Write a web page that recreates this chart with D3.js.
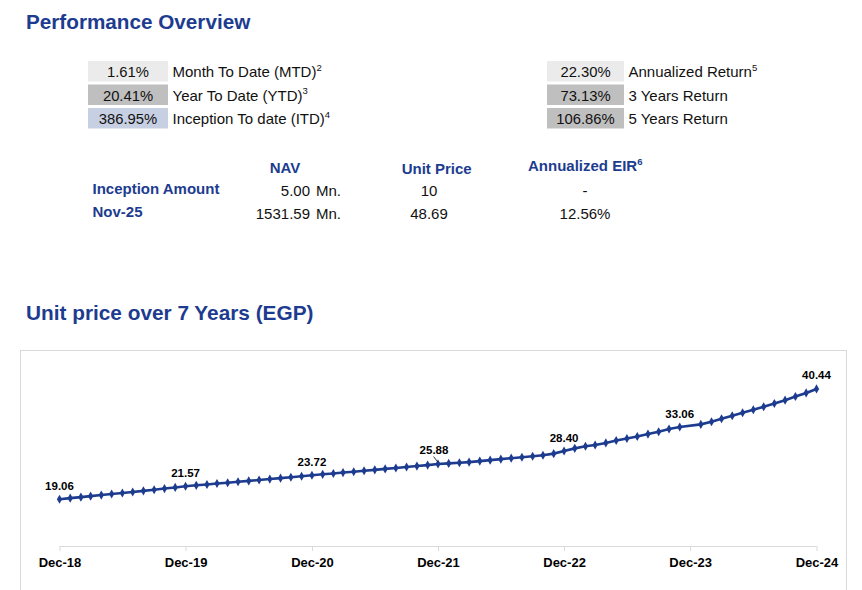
<!DOCTYPE html>
<html>
<head>
<meta charset="utf-8">
<script src="https://cdn.jsdelivr.net/npm/d3@7"></script>
<style>
  body { margin: 0; background: #ffffff; }
  svg { display: block; font-family: "Liberation Sans", Arial, sans-serif; }
</style>
</head>
<body>
<script>
// performance boxes
var leftStats = ["1.61%", "20.41%", "386.95%"];
var leftLabels = ["Month To Date (MTD)", "Year To Date (YTD)", "Inception To date (ITD)"];
var leftNotes = ["2", "3", "4"];
var rightStats = ["22.30%", "73.13%", "106.86%"];
var rightLabels = ["Annualized Return", "3 Years Return", "5 Years Return"];
var rightNotes = ["5", "", ""];

// NAV table
var tableRows = ["Inception Amount", "Nov-25"];
var navValues = ["5.00", "1531.59"];
var unitPrices = ["10", "48.69"];
var eirValues = ["-", "12.56%"];

// unit price, month end (Dec-23 not published)
var months = ["2018-12",
  "2019-01","2019-02","2019-03","2019-04","2019-05","2019-06","2019-07","2019-08","2019-09","2019-10","2019-11","2019-12",
  "2020-01","2020-02","2020-03","2020-04","2020-05","2020-06","2020-07","2020-08","2020-09","2020-10","2020-11","2020-12",
  "2021-01","2021-02","2021-03","2021-04","2021-05","2021-06","2021-07","2021-08","2021-09","2021-10","2021-11","2021-12",
  "2022-01","2022-02","2022-03","2022-04","2022-05","2022-06","2022-07","2022-08","2022-09","2022-10","2022-11","2022-12",
  "2023-01","2023-02","2023-03","2023-04","2023-05","2023-06","2023-07","2023-08","2023-09","2023-10","2023-11",
  "2024-01","2024-02","2024-03","2024-04","2024-05","2024-06","2024-07","2024-08","2024-09","2024-10","2024-11","2024-12"];
var prices = [19.06,
  19.27, 19.47, 19.66, 19.87, 20.07, 20.27, 20.47, 20.69, 20.91, 21.13, 21.35, 21.57,
  21.76, 21.93, 22.10, 22.27, 22.44, 22.62, 22.79, 22.97, 23.15, 23.33, 23.52, 23.72,
  23.89, 24.06, 24.23, 24.40, 24.58, 24.76, 24.94, 25.12, 25.30, 25.49, 25.68, 25.88,
  26.01, 26.13, 26.26, 26.45, 26.64, 26.83, 27.02, 27.21, 27.40, 27.59, 27.90, 28.40,
  28.92, 29.32, 29.58, 29.98, 30.44, 30.83, 31.23, 31.69, 32.15, 32.68, 33.06,
  33.57, 34.09, 34.66, 35.24, 35.82, 36.40, 36.98, 37.62, 38.26, 38.97, 39.67, 40.44];
var labelMonths = ["2018-12", "2019-12", "2020-12", "2021-12", "2022-12", "2023-11", "2024-12"];
var tickLabels = ["Dec-18", "Dec-19", "Dec-20", "Dec-21", "Dec-22", "Dec-23", "Dec-24"];

var blue = "#1d3c8f";

var svg = d3.select("body")
            .append("svg")
            .attr("width", 862)
            .attr("height", 590);

// titles
svg.append("text")
   .attr("x", 26)
   .attr("y", 29)
   .attr("fill", blue)
   .attr("font-size", 20.7)
   .attr("font-weight", "bold")
   .text("Performance Overview");

svg.append("text")
   .attr("x", 26)
   .attr("y", 319.5)
   .attr("fill", blue)
   .attr("font-size", 20.8)
   .attr("font-weight", "bold")
   .text("Unit price over 7 Years (EGP)");

// stat boxes
var drawStats = function(x, w, stats, labels, notes, fills) {
  var g = svg.append("g").attr("class", "stats");
  stats.forEach(function(s, i) {
    var y = 61 + i * 23.5;
    g.append("rect")
     .attr("x", x)
     .attr("y", y)
     .attr("width", w)
     .attr("height", 20.5)
     .attr("fill", fills[i]);
    g.append("text")
     .attr("x", x + w / 2)
     .attr("y", y + 16)
     .attr("text-anchor", "middle")
     .attr("font-size", 14.8)
     .attr("fill", "#111")
     .text(s);
    var t = g.append("text")
             .attr("x", x + w + 4.5)
             .attr("y", y + 16)
             .attr("font-size", 15)
             .attr("fill", "#111");
    t.append("tspan").text(labels[i]);
    if (notes[i] != "") {
      t.append("tspan")
       .attr("font-size", 9.5)
       .attr("dy", -6.5)
       .text(notes[i]);
    }
  });
};

drawStats(88, 80, leftStats, leftLabels, leftNotes, ["#ebebeb", "#bfbfbf", "#c7cfe2"]);
drawStats(547, 77, rightStats, rightLabels, rightNotes, ["#ebebeb", "#bfbfbf", "#bfbfbf"]);

// NAV table
var tbl = svg.append("g").attr("class", "navTable");

tbl.append("text")
   .attr("x", 285).attr("y", 173.3)
   .attr("text-anchor", "middle")
   .attr("font-size", 15).attr("font-weight", "bold").attr("fill", blue)
   .text("NAV");
tbl.append("text")
   .attr("x", 436.7).attr("y", 174)
   .attr("text-anchor", "middle")
   .attr("font-size", 15).attr("font-weight", "bold").attr("fill", blue)
   .text("Unit Price");
var eir = tbl.append("text")
   .attr("x", 528).attr("y", 171)
   .attr("font-size", 15).attr("font-weight", "bold").attr("fill", blue);
eir.append("tspan").text("Annualized EIR");
eir.append("tspan").attr("font-size", 9.5).attr("dy", -6).text("6");

tableRows.forEach(function(r, i) {
  var y = 194.3 + i * 23;
  tbl.append("text")
     .attr("x", 92.5).attr("y", y)
     .attr("font-size", 15).attr("font-weight", "bold").attr("fill", blue)
     .text(r);
  tbl.append("text")
     .attr("x", 310).attr("y", y + 1.2)
     .attr("text-anchor", "end")
     .attr("font-size", 15).attr("fill", "#111")
     .text(navValues[i]);
  tbl.append("text")
     .attr("x", 316).attr("y", y + 1.2)
     .attr("font-size", 15).attr("fill", "#111")
     .text("Mn.");
  tbl.append("text")
     .attr("x", 429).attr("y", y + 1.2)
     .attr("text-anchor", "middle")
     .attr("font-size", 15).attr("fill", "#111")
     .text(unitPrices[i]);
  tbl.append("text")
     .attr("x", 585).attr("y", y + 1.2)
     .attr("text-anchor", "middle")
     .attr("font-size", 15).attr("fill", "#111")
     .text(eirValues[i]);
});

// chart frame
svg.append("rect")
   .attr("x", 20.5)
   .attr("y", 350.5)
   .attr("width", 826)
   .attr("height", 260)
   .attr("fill", "none")
   .attr("stroke", "#d9d9d9");

var parseMonth = d3.timeParse("%Y-%m");
var data = months.map(function(m, i) {
  return {date: parseMonth(m), key: m, value: prices[i]};
});

var xScale = d3.scaleTime()
               .domain([parseMonth("2018-12"), parseMonth("2024-12")])
               .range([59.5, 816.5]);

var yScale = d3.scaleLinear()
               .domain([10, 45])
               .range([546, 365.4]);

// x axis
var tickDates = tickLabels.map(function(t, i) { return parseMonth((2018 + i) + "-12"); });
var xAxis = d3.axisBottom(xScale)
              .tickValues(tickDates)
              .tickSize(5)
              .tickFormat(function(d, i) { return tickLabels[i]; });

var axisG = svg.append("g")
               .attr("class", "xAxis")
               .attr("transform", "translate(0,546)")
               .call(xAxis);
axisG.select(".domain")
     .attr("stroke", "#d9d9d9")
     .attr("d", "M59.5,0.5H816.5");
axisG.selectAll(".tick line").attr("stroke", "#d9d9d9");
axisG.selectAll(".tick text")
     .attr("y", 12)
     .attr("dy", "0.71em")
     .attr("fill", "#000")
     .attr("font-size", 13)
     .attr("font-weight", "bold")
     .attr("font-family", "Liberation Sans, Arial, sans-serif");

// line
var drawLine = d3.line()
                 .x(function(d) { return xScale(d.date); })
                 .y(function(d) { return yScale(d.value); });

svg.append("path")
   .datum(data)
   .attr("d", drawLine)
   .attr("fill", "none")
   .attr("stroke", blue)
   .attr("stroke-width", 2.6);

svg.append("g")
   .attr("class", "dots")
   .selectAll("path")
   .data(data)
   .enter()
   .append("path")
   .attr("d", d3.symbol().type(d3.symbolDiamond).size(24))
   .attr("transform", function(d) {
     return "translate(" + xScale(d.date) + "," + yScale(d.value) + ")";
   })
   .attr("fill", blue);

// data labels
var labelData = data.filter(function(d) { return labelMonths.indexOf(d.key) >= 0; });
var labels = svg.append("g").attr("class", "labels");

labelData.forEach(function(d) {
  var x = xScale(d.date);
  var y = yScale(d.value);
  var lift = 9.5;
  if (d.key == "2021-12") {
    lift = 10.5;
    x = x - 4;
    labels.append("line")
          .attr("x1", x - 0.5).attr("y1", y - 7.5)
          .attr("x2", x + 3.5).attr("y2", y - 2.5)
          .attr("stroke", "#000")
          .attr("stroke-width", 0.8);
  }
  labels.append("text")
        .attr("x", x)
        .attr("y", y - lift)
        .attr("text-anchor", "middle")
        .attr("font-size", 11.5)
        .attr("font-weight", "bold")
        .attr("fill", "#000")
        .text(d.value.toFixed(2));
});
</script>
</body>
</html>
